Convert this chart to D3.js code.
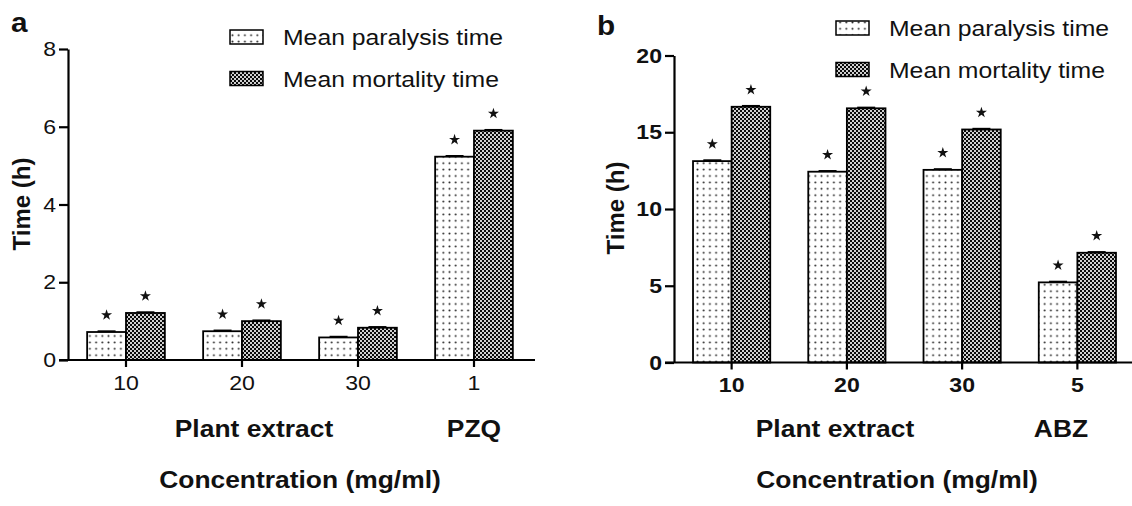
<!DOCTYPE html>
<html><head><meta charset="utf-8">
<script src="https://cdn.jsdelivr.net/npm/d3@7"></script>
<style>body{margin:0;background:#fff}svg{display:block;font-family:"Liberation Sans",Arial,sans-serif}</style>
</head><body>
<svg id="c" width="1132" height="506"></svg>
<script>
// ---------- data ----------
const seriesNames = ["Mean paralysis time", "Mean mortality time"];
const categoriesA = ["10", "20", "30", "1"];
const paralysisA = [0.72, 0.74, 0.58, 5.23];
const mortalityA = [1.21, 1.00, 0.83, 5.90];
const paralysisErrA = [0.02, 0.02, 0.02, 0.02];
const mortalityErrA = [0.02, 0.02, 0.02, 0.02];
const yTicksA = [0, 2, 4, 6, 8];

const categoriesB = ["10", "20", "30", "5"];
const paralysisB = [13.12, 12.43, 12.55, 5.22];
const mortalityB = [16.66, 16.56, 15.18, 7.15];
const paralysisErrB = [0.06, 0.05, 0.05, 0.05];
const mortalityErrB = [0.06, 0.05, 0.05, 0.05];
const yTicksB = [0, 5, 10, 15, 20];

const groupLabelsA = ["Plant extract", "PZQ"];
const groupLabelsB = ["Plant extract", "ABZ"];
const xTitle = "Concentration (mg/ml)";
const yTitle = "Time (h)";

// ---------- drawing ----------
const svg = d3.select("#c");
const defs = svg.append("defs");
const pd = defs.append("pattern").attr("id", "dots").attr("patternUnits", "userSpaceOnUse")
  .attr("width", 6.2).attr("height", 6.4);
pd.append("rect").attr("width", 6.2).attr("height", 6.4).attr("fill", "#fff");
pd.append("circle").attr("cx", 3.1).attr("cy", 3.2).attr("r", 1.0).attr("fill", "#222");
const pc = defs.append("pattern").attr("id", "check").attr("patternUnits", "userSpaceOnUse")
  .attr("width", 4).attr("height", 4);
pc.append("rect").attr("width", 4).attr("height", 4).attr("fill", "#0a0a0a");
pc.append("rect").attr("x", 0.1).attr("y", 0.1).attr("width", 1.8).attr("height", 1.8).attr("fill", "#fff");
pc.append("rect").attr("x", 2.1).attr("y", 2.1).attr("width", 1.8).attr("height", 1.8).attr("fill", "#fff");
const fills = ["url(#dots)", "url(#check)"];

function panel(cfg) {
  const g = svg.append("g");
  const x0 = d3.scaleBand().domain(cfg.cats).range(cfg.xRange).paddingInner(0.33).paddingOuter(0.165);
  const x1 = d3.scaleBand().domain([0, 1]).range([0, x0.bandwidth()]);
  const y = d3.scaleLinear().domain(cfg.yDomain).range(cfg.yRange);
  const rows = cfg.cats.map((c, i) => ({ c, v: [cfg.par[i], cfg.mor[i]], e: [cfg.parE[i], cfg.morE[i]] }));

  // bars
  rows.forEach(r => {
    [0, 1].forEach(s => {
      const bx = x0(r.c) + x1(s), bw = x1.bandwidth(), top = y(r.v[s]);
      g.append("rect").attr("x", bx).attr("y", top).attr("width", bw).attr("height", y(0) - top)
        .attr("fill", fills[s]).attr("stroke", "#000").attr("stroke-width", 1.8);
      const et = y(r.v[s] + r.e[s]);
      g.append("line").attr("x1", bx + bw / 2).attr("x2", bx + bw / 2).attr("y1", top).attr("y2", et)
        .attr("stroke", "#000").attr("stroke-width", 1.6);
      g.append("line").attr("x1", bx + bw / 2 - 9).attr("x2", bx + bw / 2 + 9).attr("y1", et).attr("y2", et)
        .attr("stroke", "#000").attr("stroke-width", 1.8);
      g.append("path").attr("d", d3.symbol(d3.symbolStar, 38)())
        .attr("transform", `translate(${bx + bw / 2},${top - 17})`).attr("fill", "#111");
    });
  });

  // y axis
  const ya = g.append("g").attr("transform", `translate(${cfg.xRange[0]},0)`)
    .call(d3.axisLeft(y).tickValues(cfg.yTicks).tickSize(9).tickSizeOuter(0).tickPadding(3));
  ya.select(".domain").attr("stroke-width", 2.2);
  ya.selectAll(".tick line").attr("stroke-width", 2.2);
  ya.selectAll(".tick text").attr("font-size", 21).attr("font-weight", cfg.bold ? "bold" : "normal").attr("fill", "#111");

  // x axis
  const xa = g.append("g").attr("transform", `translate(0,${y(0)})`)
    .call(d3.axisBottom(x0).tickSize(7).tickSizeOuter(0).tickPadding(8));
  xa.select(".domain").remove();
  xa.selectAll(".tick line").attr("stroke-width", 2.2);
  xa.selectAll(".tick text").attr("font-size", 21).attr("font-weight", cfg.bold ? "bold" : "normal").attr("fill", "#111");
  g.append("line").attr("x1", cfg.xRange[0] - 9).attr("x2", cfg.xEnd).attr("y1", y(0)).attr("y2", y(0))
    .attr("stroke", "#000").attr("stroke-width", 2.2);

  // group labels & titles
  cfg.groups.forEach((t, i) => {
    g.append("text").attr("class", "st").attr("x", cfg.groupX[i]).attr("y", 437).attr("text-anchor", "middle")
      .attr("font-size", 24).attr("font-weight", "bold").attr("fill", "#111").text(t);
  });
  g.append("text").attr("class", "st").attr("x", cfg.titleX).attr("y", 488).attr("text-anchor", "middle")
    .attr("font-size", 24).attr("font-weight", "bold").attr("fill", "#111").text(xTitle);
  g.append("text").attr("transform", `translate(${cfg.yTitleX},${cfg.yTitleY}) rotate(-90)`).attr("text-anchor", "middle")
    .attr("font-size", 24).attr("font-weight", "bold").attr("fill", "#111").text(yTitle);
  g.append("text").attr("class", "st").attr("x", cfg.letterX).attr("y", cfg.letterY)
    .attr("font-size", 27).attr("font-weight", "bold").attr("fill", "#111").text(cfg.letter);

  // legend
  seriesNames.forEach((n, i) => {
    const ly = cfg.legY + i * 41.5;
    g.append("rect").attr("x", cfg.legX).attr("y", ly - 7).attr("width", 33).attr("height", 14)
      .attr("fill", fills[i]).attr("stroke", "#000").attr("stroke-width", 1.5);
    g.append("text").attr("class", "st").attr("x", cfg.legX + 53).attr("y", ly + 8)
      .attr("font-size", 22.5).attr("fill", "#111").text(n);
  });
  xa.selectAll(".tick text").classed("st", true);
  ya.selectAll(".tick text").classed("st", true);
}

panel({ cats: categoriesA, par: paralysisA, mor: mortalityA, parE: paralysisErrA, morE: mortalityErrA,
  yDomain: [0, 8], yRange: [360, 49], yTicks: yTicksA, xRange: [68, 532], xEnd: 535, bold: false,
  groups: groupLabelsA, groupX: [254, 474], titleX: 300, yTitleX: 30, yTitleY: 204,
  letter: "a", letterX: 11, letterY: 32, legX: 230, legY: 37 });
panel({ cats: categoriesB, par: paralysisB, mor: mortalityB, parE: paralysisErrB, morE: mortalityErrB,
  yDomain: [0, 20], yRange: [362.5, 55.5], yTicks: yTicksB, xRange: [674, 1135], xEnd: 1132, bold: true,
  groups: groupLabelsB, groupX: [835, 1061], titleX: 897, yTitleX: 624, yTitleY: 208,
  letter: "b", letterX: 597, letterY: 35, legX: 836, legY: 28 });

// slight horizontal stretch of the original figure
svg.selectAll("text.st").each(function () {
  const L = this.getComputedTextLength();
  d3.select(this).attr("textLength", L * 1.1).attr("lengthAdjust", "spacingAndGlyphs");
});
</script>
</body></html>
